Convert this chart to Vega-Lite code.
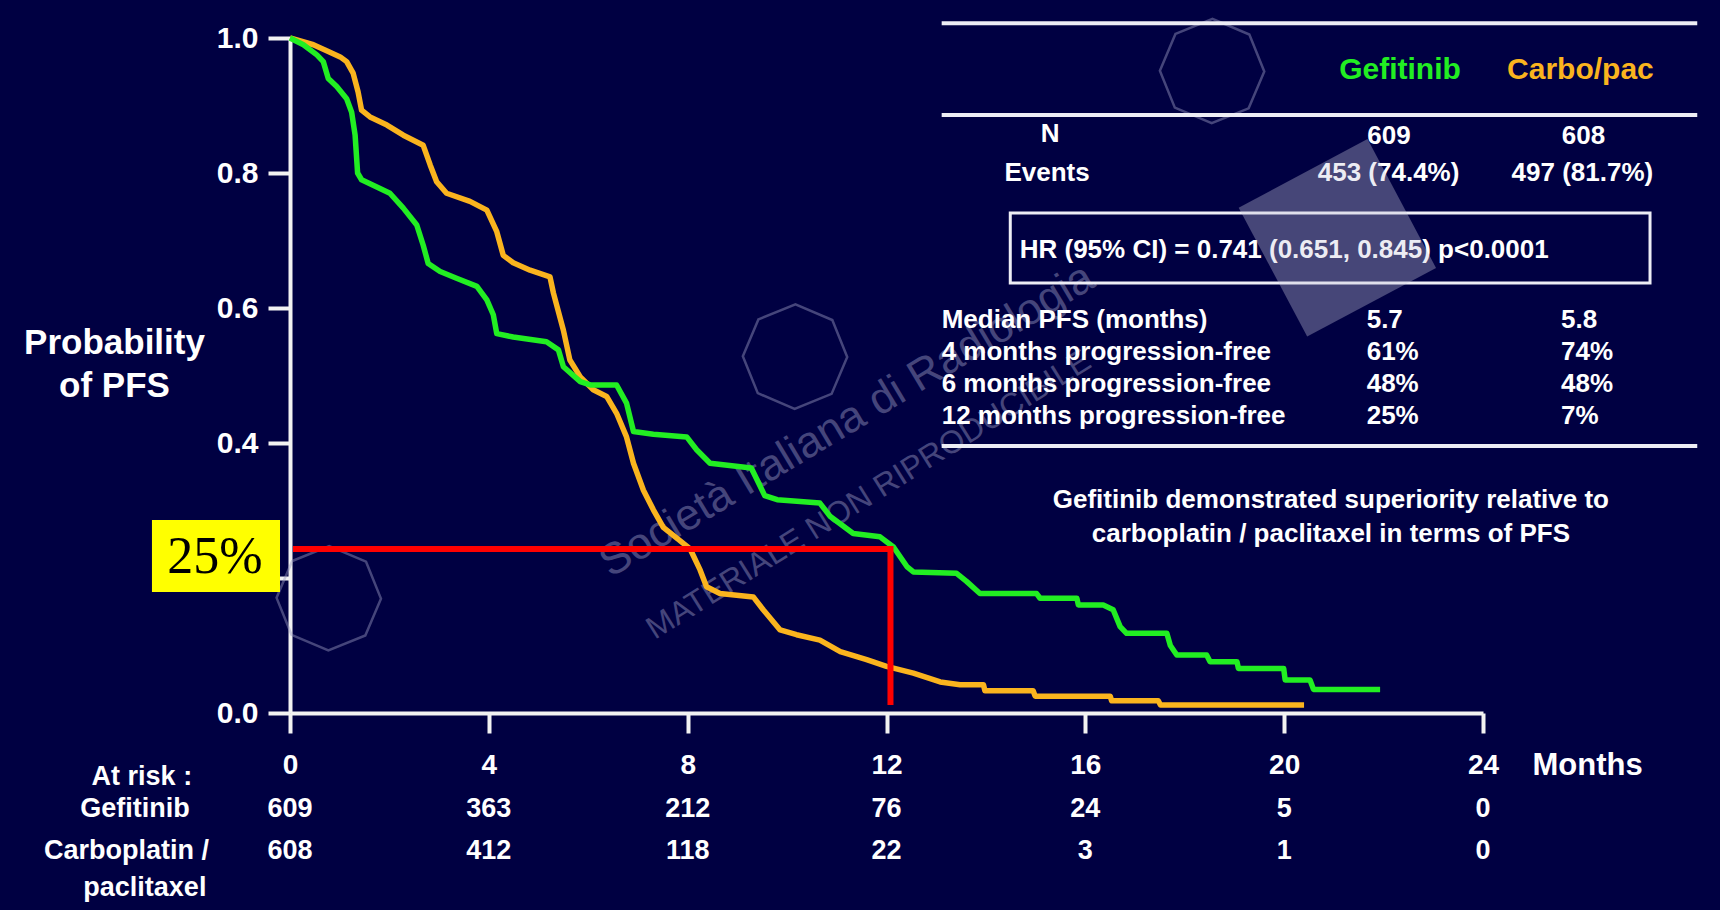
{
  "$schema": "https://vega.github.io/schema/vega-lite/v6.json",
  "width": 1193,
  "height": 675,
  "autosize": {"type": "none"},
  "padding": {"left": 290, "top": 38, "right": 237, "bottom": 197},
  "background": "#000042",
  "config": {
    "view": {"stroke": null},
    "axis": {"grid": false, "domainColor": "#F2F2F2", "domainWidth": 4, "tickColor": "#F2F2F2", "tickWidth": 4, "labelColor": "#FFFFFF", "labelFont": "Liberation Sans", "labelFontWeight": "bold", "titleColor": "#FFFFFF", "titleFont": "Liberation Sans", "titleFontWeight": "bold", "labelFlush": false, "labelOverlap": false, "labelBound": false},
    "text": {"font": "Liberation Sans", "fontWeight": "bold"}
  },
  "datasets": {
    "km": [
      {"arm": "Carbo/pac", "month": 0, "pfs": 1.0},
      {"arm": "Carbo/pac", "month": 0.47, "pfs": 0.99},
      {"arm": "Carbo/pac", "month": 0.77, "pfs": 0.98},
      {"arm": "Carbo/pac", "month": 1.01, "pfs": 0.972},
      {"arm": "Carbo/pac", "month": 1.14, "pfs": 0.965},
      {"arm": "Carbo/pac", "month": 1.27, "pfs": 0.948},
      {"arm": "Carbo/pac", "month": 1.37, "pfs": 0.92},
      {"arm": "Carbo/pac", "month": 1.44, "pfs": 0.893},
      {"arm": "Carbo/pac", "month": 1.61, "pfs": 0.883},
      {"arm": "Carbo/pac", "month": 1.95, "pfs": 0.871},
      {"arm": "Carbo/pac", "month": 2.28, "pfs": 0.856},
      {"arm": "Carbo/pac", "month": 2.68, "pfs": 0.841},
      {"arm": "Carbo/pac", "month": 2.82, "pfs": 0.812},
      {"arm": "Carbo/pac", "month": 2.95, "pfs": 0.787},
      {"arm": "Carbo/pac", "month": 3.15, "pfs": 0.77},
      {"arm": "Carbo/pac", "month": 3.62, "pfs": 0.758},
      {"arm": "Carbo/pac", "month": 3.96, "pfs": 0.745},
      {"arm": "Carbo/pac", "month": 4.16, "pfs": 0.713},
      {"arm": "Carbo/pac", "month": 4.29, "pfs": 0.678},
      {"arm": "Carbo/pac", "month": 4.49, "pfs": 0.667},
      {"arm": "Carbo/pac", "month": 4.83, "pfs": 0.656},
      {"arm": "Carbo/pac", "month": 5.23, "pfs": 0.646},
      {"arm": "Carbo/pac", "month": 5.3, "pfs": 0.622},
      {"arm": "Carbo/pac", "month": 5.5, "pfs": 0.567},
      {"arm": "Carbo/pac", "month": 5.63, "pfs": 0.523},
      {"arm": "Carbo/pac", "month": 5.84, "pfs": 0.498},
      {"arm": "Carbo/pac", "month": 6.1, "pfs": 0.479},
      {"arm": "Carbo/pac", "month": 6.37, "pfs": 0.469},
      {"arm": "Carbo/pac", "month": 6.57, "pfs": 0.444},
      {"arm": "Carbo/pac", "month": 6.77, "pfs": 0.409},
      {"arm": "Carbo/pac", "month": 6.91, "pfs": 0.37},
      {"arm": "Carbo/pac", "month": 7.11, "pfs": 0.33},
      {"arm": "Carbo/pac", "month": 7.31, "pfs": 0.301},
      {"arm": "Carbo/pac", "month": 7.51, "pfs": 0.275},
      {"arm": "Carbo/pac", "month": 7.8, "pfs": 0.258},
      {"arm": "Carbo/pac", "month": 8.05, "pfs": 0.243},
      {"arm": "Carbo/pac", "month": 8.25, "pfs": 0.212},
      {"arm": "Carbo/pac", "month": 8.38, "pfs": 0.187},
      {"arm": "Carbo/pac", "month": 8.65, "pfs": 0.177},
      {"arm": "Carbo/pac", "month": 9.32, "pfs": 0.172},
      {"arm": "Carbo/pac", "month": 9.52, "pfs": 0.153},
      {"arm": "Carbo/pac", "month": 9.86, "pfs": 0.123},
      {"arm": "Carbo/pac", "month": 10.19, "pfs": 0.116},
      {"arm": "Carbo/pac", "month": 10.66, "pfs": 0.108},
      {"arm": "Carbo/pac", "month": 11.07, "pfs": 0.091},
      {"arm": "Carbo/pac", "month": 11.6, "pfs": 0.079},
      {"arm": "Carbo/pac", "month": 12.0, "pfs": 0.069},
      {"arm": "Carbo/pac", "month": 12.54, "pfs": 0.059},
      {"arm": "Carbo/pac", "month": 13.08, "pfs": 0.046},
      {"arm": "Carbo/pac", "month": 13.48, "pfs": 0.042},
      {"arm": "Carbo/pac", "month": 13.95, "pfs": 0.042},
      {"arm": "Carbo/pac", "month": 13.98, "pfs": 0.033},
      {"arm": "Carbo/pac", "month": 14.95, "pfs": 0.033},
      {"arm": "Carbo/pac", "month": 14.99, "pfs": 0.025},
      {"arm": "Carbo/pac", "month": 16.5, "pfs": 0.025},
      {"arm": "Carbo/pac", "month": 16.53, "pfs": 0.018},
      {"arm": "Carbo/pac", "month": 17.47, "pfs": 0.018},
      {"arm": "Carbo/pac", "month": 17.51, "pfs": 0.012},
      {"arm": "Carbo/pac", "month": 20.4, "pfs": 0.012},
      {"arm": "Gefitinib", "month": 0, "pfs": 1.0},
      {"arm": "Gefitinib", "month": 0.27, "pfs": 0.99},
      {"arm": "Gefitinib", "month": 0.54, "pfs": 0.975},
      {"arm": "Gefitinib", "month": 0.67, "pfs": 0.965},
      {"arm": "Gefitinib", "month": 0.77, "pfs": 0.94},
      {"arm": "Gefitinib", "month": 0.94, "pfs": 0.928},
      {"arm": "Gefitinib", "month": 1.14, "pfs": 0.91},
      {"arm": "Gefitinib", "month": 1.24, "pfs": 0.89},
      {"arm": "Gefitinib", "month": 1.31, "pfs": 0.856},
      {"arm": "Gefitinib", "month": 1.36, "pfs": 0.8},
      {"arm": "Gefitinib", "month": 1.44, "pfs": 0.79},
      {"arm": "Gefitinib", "month": 1.81, "pfs": 0.777},
      {"arm": "Gefitinib", "month": 2.01, "pfs": 0.77},
      {"arm": "Gefitinib", "month": 2.28, "pfs": 0.748},
      {"arm": "Gefitinib", "month": 2.55, "pfs": 0.723},
      {"arm": "Gefitinib", "month": 2.68, "pfs": 0.693},
      {"arm": "Gefitinib", "month": 2.78, "pfs": 0.666},
      {"arm": "Gefitinib", "month": 3.02, "pfs": 0.654},
      {"arm": "Gefitinib", "month": 3.35, "pfs": 0.644},
      {"arm": "Gefitinib", "month": 3.76, "pfs": 0.632},
      {"arm": "Gefitinib", "month": 3.96, "pfs": 0.612},
      {"arm": "Gefitinib", "month": 4.09, "pfs": 0.59},
      {"arm": "Gefitinib", "month": 4.16, "pfs": 0.562},
      {"arm": "Gefitinib", "month": 4.49, "pfs": 0.557},
      {"arm": "Gefitinib", "month": 5.16, "pfs": 0.55},
      {"arm": "Gefitinib", "month": 5.4, "pfs": 0.538},
      {"arm": "Gefitinib", "month": 5.5, "pfs": 0.513},
      {"arm": "Gefitinib", "month": 5.84, "pfs": 0.491},
      {"arm": "Gefitinib", "month": 6.04, "pfs": 0.486},
      {"arm": "Gefitinib", "month": 6.57, "pfs": 0.486},
      {"arm": "Gefitinib", "month": 6.77, "pfs": 0.459},
      {"arm": "Gefitinib", "month": 6.91, "pfs": 0.417},
      {"arm": "Gefitinib", "month": 7.31, "pfs": 0.413},
      {"arm": "Gefitinib", "month": 7.98, "pfs": 0.409},
      {"arm": "Gefitinib", "month": 8.18, "pfs": 0.39},
      {"arm": "Gefitinib", "month": 8.45, "pfs": 0.37},
      {"arm": "Gefitinib", "month": 9.28, "pfs": 0.363},
      {"arm": "Gefitinib", "month": 9.55, "pfs": 0.322},
      {"arm": "Gefitinib", "month": 9.8, "pfs": 0.316},
      {"arm": "Gefitinib", "month": 10.66, "pfs": 0.311},
      {"arm": "Gefitinib", "month": 10.87, "pfs": 0.291},
      {"arm": "Gefitinib", "month": 11.33, "pfs": 0.266},
      {"arm": "Gefitinib", "month": 11.87, "pfs": 0.261},
      {"arm": "Gefitinib", "month": 12.14, "pfs": 0.246},
      {"arm": "Gefitinib", "month": 12.41, "pfs": 0.217},
      {"arm": "Gefitinib", "month": 12.54, "pfs": 0.209},
      {"arm": "Gefitinib", "month": 13.41, "pfs": 0.207},
      {"arm": "Gefitinib", "month": 13.61, "pfs": 0.195},
      {"arm": "Gefitinib", "month": 13.88, "pfs": 0.177},
      {"arm": "Gefitinib", "month": 15.02, "pfs": 0.177},
      {"arm": "Gefitinib", "month": 15.09, "pfs": 0.17},
      {"arm": "Gefitinib", "month": 15.83, "pfs": 0.17},
      {"arm": "Gefitinib", "month": 15.86, "pfs": 0.16},
      {"arm": "Gefitinib", "month": 16.36, "pfs": 0.16},
      {"arm": "Gefitinib", "month": 16.56, "pfs": 0.153},
      {"arm": "Gefitinib", "month": 16.7, "pfs": 0.128},
      {"arm": "Gefitinib", "month": 16.83, "pfs": 0.118},
      {"arm": "Gefitinib", "month": 17.64, "pfs": 0.118},
      {"arm": "Gefitinib", "month": 17.71, "pfs": 0.1},
      {"arm": "Gefitinib", "month": 17.84, "pfs": 0.086},
      {"arm": "Gefitinib", "month": 18.44, "pfs": 0.086},
      {"arm": "Gefitinib", "month": 18.51, "pfs": 0.076},
      {"arm": "Gefitinib", "month": 19.05, "pfs": 0.076},
      {"arm": "Gefitinib", "month": 19.08, "pfs": 0.066},
      {"arm": "Gefitinib", "month": 19.99, "pfs": 0.066},
      {"arm": "Gefitinib", "month": 20.02, "pfs": 0.049},
      {"arm": "Gefitinib", "month": 20.52, "pfs": 0.049},
      {"arm": "Gefitinib", "month": 20.59, "pfs": 0.035},
      {"arm": "Gefitinib", "month": 21.93, "pfs": 0.035}
    ],
    "ref": [
      {"k": 1, "month": 0.06, "pfs": 0.243},
      {"k": 2, "month": 12.08, "pfs": 0.243},
      {"k": 3, "month": 12.08, "pfs": 0.012}
    ],
    "callout": [{"label": "25%", "x0": -2.777, "x1": -0.201, "y0": 0.1793, "y1": 0.2859, "cx": -1.51, "cy": 0.2304}],
    "atrisk": [
      {"arm": "Gefitinib", "month": 0, "n": 609, "row": -0.1422},
      {"arm": "Gefitinib", "month": 4, "n": 363, "row": -0.1422},
      {"arm": "Gefitinib", "month": 8, "n": 212, "row": -0.1422},
      {"arm": "Gefitinib", "month": 12, "n": 76, "row": -0.1422},
      {"arm": "Gefitinib", "month": 16, "n": 24, "row": -0.1422},
      {"arm": "Gefitinib", "month": 20, "n": 5, "row": -0.1422},
      {"arm": "Gefitinib", "month": 24, "n": 0, "row": -0.1422},
      {"arm": "Carbo/pac", "month": 0, "n": 608, "row": -0.2044},
      {"arm": "Carbo/pac", "month": 4, "n": 412, "row": -0.2044},
      {"arm": "Carbo/pac", "month": 8, "n": 118, "row": -0.2044},
      {"arm": "Carbo/pac", "month": 12, "n": 22, "row": -0.2044},
      {"arm": "Carbo/pac", "month": 16, "n": 3, "row": -0.2044},
      {"arm": "Carbo/pac", "month": 20, "n": 1, "row": -0.2044},
      {"arm": "Carbo/pac", "month": 24, "n": 0, "row": -0.2044}
    ],
    "risklabels": [
      {"label": "At risk :", "m": -2.98, "p": -0.0948},
      {"label": "Gefitinib", "m": -3.12, "p": -0.1422},
      {"label": "Carboplatin /", "m": -3.29, "p": -0.2044},
      {"label": "paclitaxel", "m": -2.92, "p": -0.2593}
    ],
    "rules": [
      {"m0": 13.11, "m1": 28.31, "p": 1.0219},
      {"m0": 13.11, "m1": 28.31, "p": 0.8859},
      {"m0": 13.11, "m1": 28.31, "p": 0.3956}
    ],
    "hrbox": [{"m0": 14.49, "m1": 27.36, "p0": 0.637, "p1": 0.7407}],
    "header": [
      {"arm": "Gefitinib", "m": 22.33, "p": 0.953},
      {"arm": "Carbo/pac", "m": 25.96, "p": 0.953}
    ],
    "tcenter": [
      {"t": "N", "m": 15.29, "p": 0.8578},
      {"t": "609", "m": 22.11, "p": 0.8553},
      {"t": "608", "m": 26.02, "p": 0.8553},
      {"t": "Events", "m": 15.23, "p": 0.8},
      {"t": "453 (74.4%)", "m": 22.1, "p": 0.8},
      {"t": "497 (81.7%)", "m": 26.0, "p": 0.8},
      {"t": "Gefitinib  demonstrated superiority relative to", "m": 20.94, "p": 0.3156},
      {"t": "carboplatin / paclitaxel in terms of PFS", "m": 20.94, "p": 0.2652}
    ],
    "tleft": [
      {"t": "HR (95% CI) = 0.741 (0.651, 0.845) p<0.0001", "m": 14.68, "p": 0.686},
      {"t": "Median PFS (months)", "m": 13.11, "p": 0.5822},
      {"t": "4 months progression-free", "m": 13.11, "p": 0.5348},
      {"t": "6 months progression-free", "m": 13.11, "p": 0.4874},
      {"t": "12 months progression-free", "m": 13.11, "p": 0.44},
      {"t": "5.7", "m": 21.66, "p": 0.5822},
      {"t": "61%", "m": 21.66, "p": 0.5348},
      {"t": "48%", "m": 21.66, "p": 0.4874},
      {"t": "25%", "m": 21.66, "p": 0.44},
      {"t": "5.8", "m": 25.57, "p": 0.5822},
      {"t": "74%", "m": 25.57, "p": 0.5348},
      {"t": "48%", "m": 25.57, "p": 0.4874},
      {"t": "7%", "m": 25.57, "p": 0.44}
    ],
    "wm1": [{"t": "Società Italiana di Radiologia", "m": 6.45, "p": 0.2}],
    "wm2": [{"t": "MATERIALE NON RIPRODUCIBILE", "m": 7.34, "p": 0.108}],
    "logos": [
      {"m": 18.55, "p": 0.951},
      {"m": 10.16, "p": 0.528},
      {"m": 0.78, "p": 0.17}
    ],
    "stamp": [{"m": 21.07, "p": 0.704}]
  },
  "layer": [
    {
      "data": {"name": "logos"},
      "mark": {"type": "point", "shape": "M-0.38,-0.92L0.38,-0.92L0.92,-0.38L0.92,0.38L0.38,0.92L-0.38,0.92L-0.92,0.38L-0.92,-0.38Z", "size": 11000, "angle": -22, "filled": false, "stroke": "#9A9AC0", "strokeWidth": 2.5, "opacity": 0.45},
      "encoding": {
        "x": {"field": "m", "type": "quantitative", "scale": {"domain": [0, 24], "nice": false, "zero": false}},
        "y": {"field": "p", "type": "quantitative", "scale": {"domain": [0, 1], "nice": false, "zero": false}}
      }
    },
    {
      "data": {"name": "wm1"},
      "mark": {"type": "text", "align": "left", "baseline": "alphabetic", "angle": -31, "fontSize": 44, "fontWeight": "normal", "fill": "#9A9AC0", "opacity": 0.45},
      "encoding": {
        "x": {"field": "m", "type": "quantitative", "scale": {"domain": [0, 24], "nice": false, "zero": false}},
        "y": {"field": "p", "type": "quantitative", "scale": {"domain": [0, 1], "nice": false, "zero": false}},
        "text": {"field": "t"}
      }
    },
    {
      "data": {"name": "wm2"},
      "mark": {"type": "text", "align": "left", "baseline": "alphabetic", "angle": -32, "fontSize": 32, "fontWeight": "normal", "fill": "#9A9AC0", "opacity": 0.45},
      "encoding": {
        "x": {"field": "m", "type": "quantitative", "scale": {"domain": [0, 24], "nice": false, "zero": false}},
        "y": {"field": "p", "type": "quantitative", "scale": {"domain": [0, 1], "nice": false, "zero": false}},
        "text": {"field": "t"}
      }
    },
    {
      "data": {"name": "km"},
      "mark": {"type": "line", "strokeWidth": 5.5, "strokeJoin": "round"},
      "encoding": {
        "x": {"field": "month", "type": "quantitative", "scale": {"domain": [0, 24], "nice": false, "zero": false},
          "axis": {"values": [0, 4, 8, 12, 16, 20, 24], "tickSize": 20, "labelFontSize": 28, "labelPadding": 18, "labelBaseline": "top", "title": "Months", "titleFontSize": 31, "titleX": 1242, "titleY": 52, "titleAlign": "left", "titleBaseline": "middle", "titleAnchor": null}},
        "y": {"field": "pfs", "type": "quantitative", "scale": {"domain": [0, 1], "nice": false, "zero": false},
          "axis": {"values": [0, 0.2, 0.4, 0.6, 0.8, 1], "format": ".1f", "tickSize": 22, "labelPadding": 10, "labelFontSize": 30, "title": ["Probability", "of PFS"], "titleAngle": 0, "titleX": -176, "titleY": 315, "titleAlign": "center", "titleBaseline": "alphabetic", "titleFontSize": 35, "titleLineHeight": 43, "titleAnchor": null}},
        "color": {"field": "arm", "type": "nominal", "scale": {"domain": ["Gefitinib", "Carbo/pac"], "range": ["#22EE22", "#FAB41E"]}, "legend": null}
      }
    },
    {
      "data": {"name": "ref"},
      "mark": {"type": "line", "color": "#FF0000", "strokeWidth": 6, "strokeJoin": "miter"},
      "encoding": {
        "x": {"field": "month", "type": "quantitative", "scale": {"domain": [0, 24], "nice": false, "zero": false}},
        "y": {"field": "pfs", "type": "quantitative", "scale": {"domain": [0, 1], "nice": false, "zero": false}},
        "order": {"field": "k"}
      }
    },
    {
      "data": {"name": "callout"},
      "mark": {"type": "rect", "color": "#FFFF00"},
      "encoding": {
        "x": {"field": "x0", "type": "quantitative", "scale": {"domain": [0, 24], "nice": false, "zero": false}},
        "x2": {"field": "x1"},
        "y": {"field": "y0", "type": "quantitative", "scale": {"domain": [0, 1], "nice": false, "zero": false}},
        "y2": {"field": "y1"}
      }
    },
    {
      "data": {"name": "callout"},
      "mark": {"type": "text", "font": "Liberation Serif", "fontWeight": "normal", "fontSize": 52, "color": "#000000", "align": "center", "baseline": "middle"},
      "encoding": {
        "x": {"field": "cx", "type": "quantitative", "scale": {"domain": [0, 24], "nice": false, "zero": false}},
        "y": {"field": "cy", "type": "quantitative", "scale": {"domain": [0, 1], "nice": false, "zero": false}},
        "text": {"field": "label"}
      }
    },
    {
      "data": {"name": "atrisk"},
      "mark": {"type": "text", "fontSize": 27, "color": "#FFFFFF", "align": "center", "baseline": "middle"},
      "encoding": {
        "x": {"field": "month", "type": "quantitative", "scale": {"domain": [0, 24], "nice": false, "zero": false}},
        "y": {"field": "row", "type": "quantitative", "scale": {"domain": [0, 1], "nice": false, "zero": false}},
        "text": {"field": "n"}
      }
    },
    {
      "data": {"name": "risklabels"},
      "mark": {"type": "text", "fontSize": 27, "color": "#FFFFFF", "align": "center", "baseline": "middle"},
      "encoding": {
        "x": {"field": "m", "type": "quantitative", "scale": {"domain": [0, 24], "nice": false, "zero": false}},
        "y": {"field": "p", "type": "quantitative", "scale": {"domain": [0, 1], "nice": false, "zero": false}},
        "text": {"field": "label"}
      }
    },
    {
      "data": {"name": "rules"},
      "mark": {"type": "rule", "color": "#EDEDF5", "strokeWidth": 4},
      "encoding": {
        "x": {"field": "m0", "type": "quantitative", "scale": {"domain": [0, 24], "nice": false, "zero": false}},
        "x2": {"field": "m1"},
        "y": {"field": "p", "type": "quantitative", "scale": {"domain": [0, 1], "nice": false, "zero": false}}
      }
    },
    {
      "data": {"name": "hrbox"},
      "mark": {"type": "rect", "fillOpacity": 0, "stroke": "#EDEDF5", "strokeWidth": 3},
      "encoding": {
        "x": {"field": "m0", "type": "quantitative", "scale": {"domain": [0, 24], "nice": false, "zero": false}},
        "x2": {"field": "m1"},
        "y": {"field": "p0", "type": "quantitative", "scale": {"domain": [0, 1], "nice": false, "zero": false}},
        "y2": {"field": "p1"}
      }
    },
    {
      "data": {"name": "header"},
      "mark": {"type": "text", "fontSize": 30, "align": "center", "baseline": "middle"},
      "encoding": {
        "x": {"field": "m", "type": "quantitative", "scale": {"domain": [0, 24], "nice": false, "zero": false}},
        "y": {"field": "p", "type": "quantitative", "scale": {"domain": [0, 1], "nice": false, "zero": false}},
        "text": {"field": "arm"},
        "color": {"field": "arm", "type": "nominal", "scale": {"domain": ["Gefitinib", "Carbo/pac"], "range": ["#22EE22", "#FAB41E"]}, "legend": null}
      }
    },
    {
      "data": {"name": "tcenter"},
      "mark": {"type": "text", "fontSize": 26, "color": "#FFFFFF", "align": "center", "baseline": "middle"},
      "encoding": {
        "x": {"field": "m", "type": "quantitative", "scale": {"domain": [0, 24], "nice": false, "zero": false}},
        "y": {"field": "p", "type": "quantitative", "scale": {"domain": [0, 1], "nice": false, "zero": false}},
        "text": {"field": "t"}
      }
    },
    {
      "data": {"name": "tleft"},
      "mark": {"type": "text", "fontSize": 26, "color": "#FFFFFF", "align": "left", "baseline": "middle"},
      "encoding": {
        "x": {"field": "m", "type": "quantitative", "scale": {"domain": [0, 24], "nice": false, "zero": false}},
        "y": {"field": "p", "type": "quantitative", "scale": {"domain": [0, 1], "nice": false, "zero": false}},
        "text": {"field": "t"}
      }
    },
    {
      "data": {"name": "stamp"},
      "mark": {"type": "point", "shape": "square", "size": 21300, "angle": -28, "filled": true, "color": "#C8C8DC", "opacity": 0.35},
      "encoding": {
        "x": {"field": "m", "type": "quantitative", "scale": {"domain": [0, 24], "nice": false, "zero": false}},
        "y": {"field": "p", "type": "quantitative", "scale": {"domain": [0, 1], "nice": false, "zero": false}}
      }
    }
  ]
}
